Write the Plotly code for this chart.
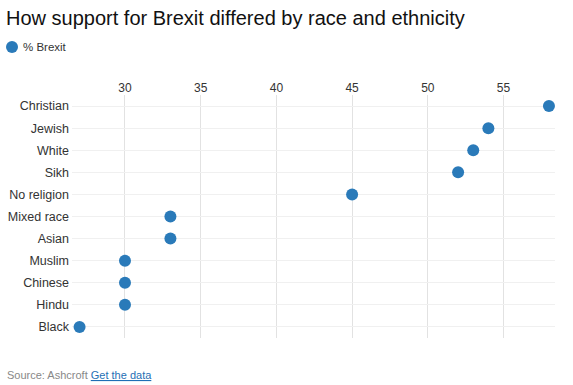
import plotly.graph_objects as go

categories = ["Christian", "Jewish", "White", "Sikh", "No religion", "Mixed race",
              "Asian", "Muslim", "Chinese", "Hindu", "Black"]
brexit_pct = [58, 54, 53, 52, 45, 33, 33, 30, 30, 30, 27]
x_ticks = [30, 35, 40, 45, 50, 55]
series_name = "% Brexit"

blue = "#2a7ab9"
font = "Liberation Sans, Arial, sans-serif"

fig = go.Figure()
fig.add_trace(go.Scatter(
    x=brexit_pct, y=categories, mode="markers", name=series_name,
    marker=dict(size=12, color=blue), showlegend=False,
))

fig.update_layout(
    width=573, height=385,
    margin=dict(l=72, r=18, t=95, b=47, autoexpand=False),
    paper_bgcolor="white", plot_bgcolor="white",
    font=dict(family=font, size=12, color="#333"),
    title=dict(text="How support for Brexit differed by race and ethnicity",
               x=6 / 573, xref="container", xanchor="left",
               y=1 - 18 / 385, yref="container", yanchor="middle",
               font=dict(family=font, size=20, color="#111")),
    xaxis=dict(side="top", range=[26.5, 58.4], tickvals=x_ticks, automargin=False,
               showgrid=True, gridcolor="#e2e2e2", zeroline=False,
               showline=False, ticks="", tickfont=dict(size=12, color="#333")),
    yaxis=dict(type="category", categoryorder="array", automargin=False,
               categoryarray=categories[::-1], range=[-0.5, len(categories) - 0.5],
               showgrid=True, gridcolor="#f0f0f0", zeroline=False,
               showline=False, ticks="", ticklabelstandoff=2,
               tickfont=dict(size=12.5, color="#333")),
)

# legend swatch + label
fig.add_shape(type="circle", xref="paper", yref="paper",
              xsizemode="pixel", ysizemode="pixel",
              xanchor=(12 - 72) / 483, yanchor=(338 - 47) / 243,
              x0=-6, x1=6, y0=-6, y1=6,
              fillcolor=blue, line=dict(width=0))
fig.add_annotation(text=series_name, xref="paper", yref="paper",
                   x=(21 - 72) / 483, y=(338 - 47) / 243,
                   xanchor="left", yanchor="middle", showarrow=False,
                   font=dict(size=11.5, color="#333"))

fig.add_annotation(
    text="Source: Ashcroft <a href='#' style='color:#1f6fb5;text-decoration:underline'>Get the data</a>",
    xref="paper", yref="paper", x=(5 - 72) / 483, y=(338 - 375) / 243,
    xanchor="left", yanchor="middle", showarrow=False,
    font=dict(size=11, color="#888"))

fig.write_html("out.html", config={"displayModeBar": False},
               post_script="document.body.style.margin='0';document.body.style.overflow='hidden';")
